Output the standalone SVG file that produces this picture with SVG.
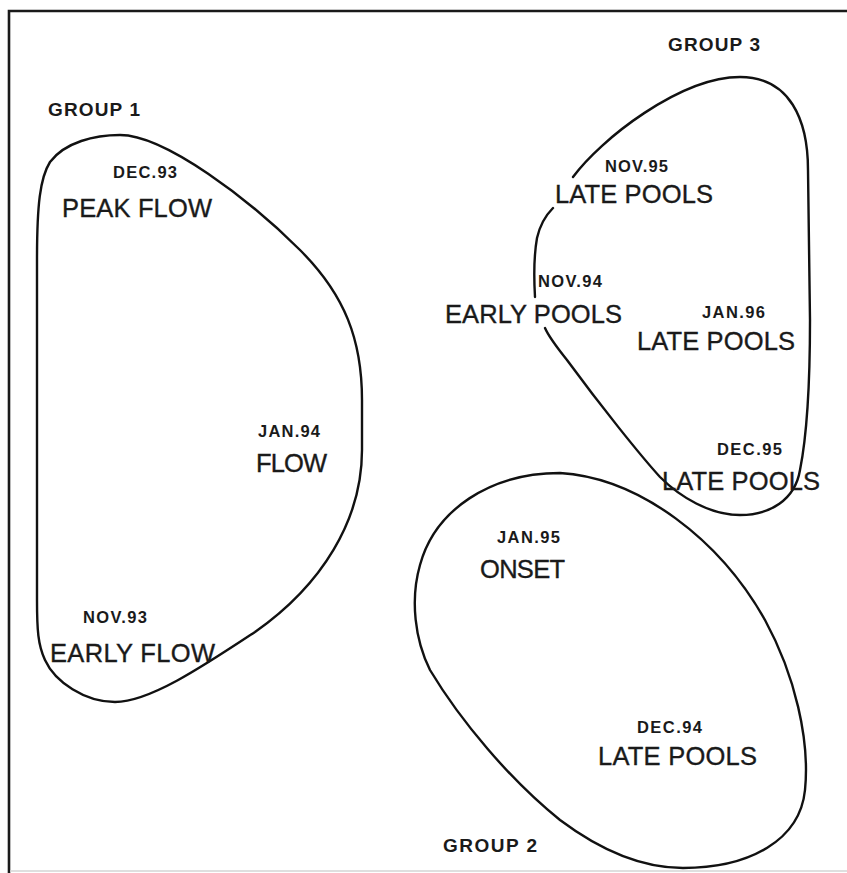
<svg xmlns="http://www.w3.org/2000/svg" width="847" height="873" viewBox="0 0 847 873">
  <style>
    .outline { fill: none; stroke: #111; stroke-width: 2.4; stroke-linecap: round; stroke-linejoin: round; }
    .frame { fill: none; stroke: #1a1a1a; stroke-width: 2.6; }
    .big { font-family: "Liberation Sans", Arial, sans-serif; font-size: 25.5px; fill: #1a1a1a; stroke: #1a1a1a; stroke-width: 0.35; }
    .date { font-family: "Liberation Sans", Arial, sans-serif; font-size: 16.5px; font-weight: bold; fill: #1a1a1a; }
    .grp { font-family: "Liberation Sans", Arial, sans-serif; font-size: 19px; font-weight: bold; fill: #1a1a1a; }
  </style>
  <rect x="0" y="0" width="847" height="873" fill="#ffffff"/>

  <!-- plot frame -->
  <g id="frame">
    <path class="frame" d="M 847 11 H 9 V 873"/>
    <line x1="10" y1="871" x2="847" y2="871" stroke="#d4d4d4" stroke-width="1.5"/>
  </g>

  <!-- cluster 1 -->
  <g id="group1">
    <path class="outline" d="M 120 135 C 165 135 250 200 300 250 C 345 295 362 340 362 400 L 362 450 C 362 520 322 585 255 632 C 205 665 150 702 115 702 C 85 702 55 682 45 660 C 38 645 37 630 37 600 L 37 260 C 37 205 40 178 50 162 C 65 142 95 135 120 135 Z"/>
    <text class="grp" x="48" y="116" textLength="92" lengthAdjust="spacing">GROUP 1</text>
    <text class="date" x="113" y="178" textLength="64" lengthAdjust="spacing">DEC.93</text>
    <text class="big" x="62" y="217" textLength="150" lengthAdjust="spacing">PEAK FLOW</text>
    <text class="date" x="258" y="437" textLength="62" lengthAdjust="spacing">JAN.94</text>
    <text class="big" x="256" y="472" textLength="71" lengthAdjust="spacing">FLOW</text>
    <text class="date" x="83" y="623" textLength="64" lengthAdjust="spacing">NOV.93</text>
    <text class="big" x="50" y="662" textLength="165" lengthAdjust="spacing">EARLY FLOW</text>
  </g>

  <!-- cluster 2 -->
  <g id="group2">
    <path class="outline" d="M 560 473 C 640 478 720 540 765 620 C 795 675 810 740 805 790 C 800 840 750 868 683 868 C 640 868 600 850 560 820 C 510 780 460 720 430 670 C 415 640 410 600 420 565 C 435 510 490 473 560 473 Z"/>
    <text class="date" x="497" y="543" textLength="63" lengthAdjust="spacing">JAN.95</text>
    <text class="big" x="480" y="578" textLength="85" lengthAdjust="spacing">ONSET</text>
    <text class="date" x="637" y="733" textLength="65" lengthAdjust="spacing">DEC.94</text>
    <text class="big" x="598" y="765" textLength="159" lengthAdjust="spacing">LATE POOLS</text>
    <text class="grp" x="443" y="852" textLength="94" lengthAdjust="spacing">GROUP 2</text>
  </g>

  <!-- cluster 3 (outline broken where labels sit on it) -->
  <g id="group3">
    <path class="outline" d="M 573 177 C 600 140 680 77 740 77 C 790 77 808 120 808 170 L 810 320 C 810 400 806 440 800 470 C 795 500 770 515 740 515 C 710 515 680 497 660 477 C 640 455 600 405 567 360 C 555 345 548 335 545 328 M 535 297 C 534 280 534 255 537 238 C 540 225 546 215 553 208"/>
    <text class="grp" x="668" y="51" textLength="92" lengthAdjust="spacing">GROUP 3</text>
    <text class="date" x="605" y="172" textLength="63" lengthAdjust="spacing">NOV.95</text>
    <text class="big" x="555" y="203" textLength="158" lengthAdjust="spacing">LATE POOLS</text>
    <text class="date" x="538" y="287" textLength="64" lengthAdjust="spacing">NOV.94</text>
    <text class="big" x="445" y="323" textLength="177" lengthAdjust="spacing">EARLY POOLS</text>
    <text class="date" x="702" y="318" textLength="63" lengthAdjust="spacing">JAN.96</text>
    <text class="big" x="637" y="350" textLength="158" lengthAdjust="spacing">LATE POOLS</text>
    <text class="date" x="717" y="455" textLength="65" lengthAdjust="spacing">DEC.95</text>
    <text class="big" x="662" y="490" textLength="158" lengthAdjust="spacing">LATE POOLS</text>
  </g>
</svg>
